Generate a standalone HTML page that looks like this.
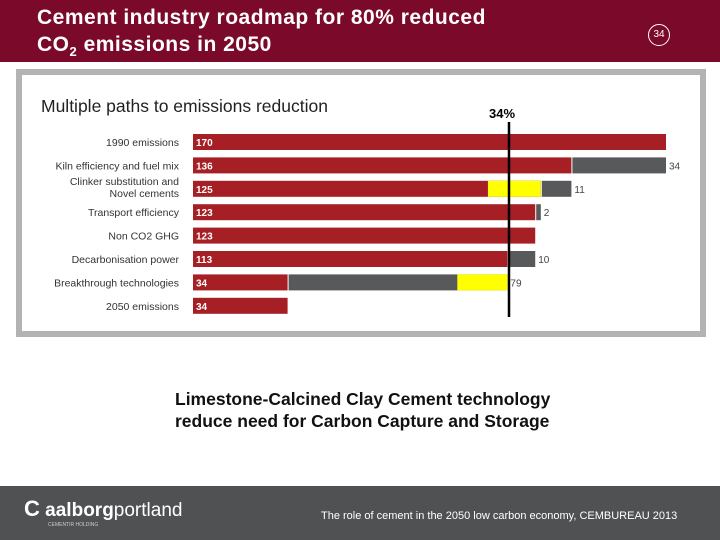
<!DOCTYPE html>
<html><head><meta charset="utf-8"><style>
body{margin:0;width:720px;height:540px;position:relative;background:#fff;font-family:"Liberation Sans",sans-serif;overflow:hidden}
.abs{position:absolute}
</style></head><body>
<div class="abs" style="left:0;top:0;width:720px;height:62px;background:#7b0a2a"></div>
<div class="abs" style="left:37px;top:4px;color:#fff;font-size:21px;letter-spacing:0.5px;font-weight:bold;line-height:27px">Cement industry roadmap for 80% reduced<br>CO<sub style="font-size:13px">2</sub> emissions in 2050</div>
<div class="abs" style="left:648px;top:24px;width:20px;height:20px;border:1px solid #fff;border-radius:50%;color:#fff;font-size:10px;line-height:20px;text-align:center">34</div>
<div class="abs" style="left:16px;top:69px;width:690px;height:268px;background:#b3b3b3"></div>
<div class="abs" style="left:22px;top:75px;width:678px;height:256px;background:#fff"></div>
<svg class="abs" style="left:0;top:0" width="720" height="540">
<text x="41" y="112" font-size="17.5" fill="#222" font-family="Liberation Sans, sans-serif">Multiple paths to emissions reduction</text>
<g id="bars"></g>
<line x1="509" y1="122" x2="509" y2="317" stroke="#000" stroke-width="2.5"/>
<text x="502" y="118" font-size="13" font-weight="bold" text-anchor="middle" font-family="Liberation Sans, sans-serif">34%</text>
</svg>
<div class="abs" style="left:175px;top:388px;font-size:17.5px;font-weight:bold;line-height:22px;color:#111">Limestone-Calcined Clay Cement technology<br>reduce need for Carbon Capture and Storage</div>
<div class="abs" style="left:0;top:486px;width:720px;height:54px;background:#505152"></div>
<div class="abs" style="left:24px;top:496px;color:#fff;font-size:19px"><b style="font-size:22px">C</b> <b>aalborg</b>portland<div style="font-size:5px;color:#ccc;margin-left:24px">CEMENTIR HOLDING</div></div>
<div class="abs" style="left:321px;top:510px;color:#fff;font-size:11px">The role of cement in the 2050 low carbon economy, CEMBUREAU 2013</div>
<script>
const categories=["1990 emissions","Kiln efficiency and fuel mix","Clinker substitution and|Novel cements","Transport efficiency","Non CO2 GHG","Decarbonisation power","Breakthrough technologies","2050 emissions"];
const remaining=[170,136,125,123,123,113,34,34];
const reduction=[0,34,11,2,0,10,79,0];
const yellowStart=[null,null,106,null,null,null,95,null];
const yellowEnd=[null,null,125,null,null,null,113,null];
const X0=193,SC=473/170;
const xs=v=>X0+v*SC;
const ys=i=>134+i*23.4;
const g=document.getElementById('bars');
const NS="http://www.w3.org/2000/svg";
function mk(t,a){const e=document.createElementNS(NS,t);for(const k in a)e.setAttribute(k,a[k]);g.appendChild(e);return e;}
categories.forEach((c,i)=>{
  const y=ys(i),h=16;
  const r=mk('rect',{x:X0,y:y,width:xs(remaining[i])-X0,height:h,fill:'#a51f24'});
  
  
  const t=mk('text',{x:X0+3,y:y+12,'font-size':10,'font-weight':'bold',fill:'#fff','font-family':'Liberation Sans, sans-serif'});t.textContent=remaining[i];
  
  
  if(reduction[i]>0){
    const gr=mk('rect',{x:xs(remaining[i])+1,y:y,width:xs(reduction[i])-X0-1,height:h,fill:'#58595b'});
    
    
    const tt=mk('text',{x:xs(remaining[i]+reduction[i])+3,y:y+12,'font-size':10,fill:'#444','font-family':'Liberation Sans, sans-serif'});tt.textContent=reduction[i];
    
    
  }
  if(yellowStart[i]!==null){
    const yr=mk('rect',{x:xs(yellowStart[i]),y:y,width:xs(yellowEnd[i])-xs(yellowStart[i]),height:h,fill:'#ffff00'});
    
    
  }
  const parts=c.split('|');
  parts.forEach((p,j)=>{
    const l=mk('text',{x:179,y:y+12+(parts.length>1?(j-0.5)*12-2:0),'font-size':10.5,fill:'#333','text-anchor':'end','font-family':'Liberation Sans, sans-serif'});
    l.textContent=p;
    
    
  });
});
</script>
</body></html>
